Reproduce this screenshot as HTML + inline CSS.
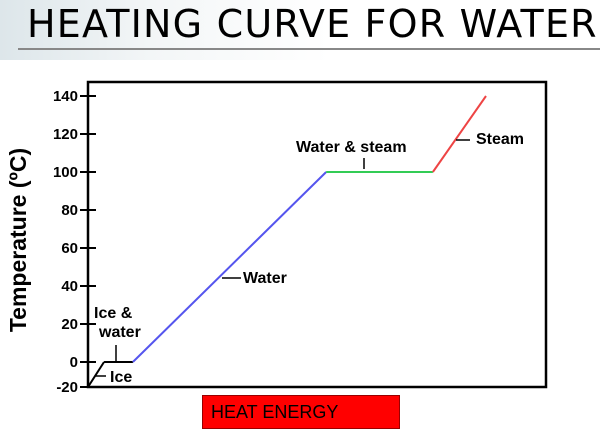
<!DOCTYPE html>
<html><head><meta charset="utf-8"><style>
body{margin:0;width:600px;height:429px;overflow:hidden;font-family:"Liberation Sans",sans-serif;background:#fff}
#bg{position:absolute;left:0;top:0;width:600px;height:60px;background:linear-gradient(90deg,#dde6ea 0%,#f3f6f7 25%,#fff 55%)}
#title{position:absolute;left:27px;top:2px;font-size:38px;color:#000;letter-spacing:1.2px;white-space:nowrap;font-family:"DejaVu Sans","Liberation Sans",sans-serif}
#rule{position:absolute;left:18px;top:48px;width:582px;height:2px;background:#888}
#energy{position:absolute;left:202px;top:395px;width:198px;height:34px;background:#f00;border:1px solid #900;box-sizing:border-box;font-size:18px;padding:6px 0 0 8px}
</style></head><body>
<div id="bg"></div>
<div id="title">HEATING CURVE FOR WATER</div>
<div id="rule"></div>
<svg id="chart" width="600" height="429" style="position:absolute;left:0;top:0"></svg>
<div id="energy">HEAT ENERGY</div>
<script>
const energy=[0,3.5,9.8,52,75.3,86.9];
const temps=[-20,0,0,100,100,140];
const colors=["#000","#000","#5555ee","#33cc55","#ee4444"];
const tickLabels=[140,120,100,80,60,40,20,0,-20];
const NS="http://www.w3.org/2000/svg";
const svg=document.getElementById('chart');
const L=88,R=546,T=82,B=387;
function xs(e){return L+e*4.58;}
function ys(t){return t>=0?362-t*(266/140):362+(-t)*(25/20);}
function mk(tag,attrs){const el=document.createElementNS(NS,tag);for(const k in attrs)el.setAttribute(k,attrs[k]);svg.appendChild(el);return el;}
const box=mk('rect',{x:L,y:T,width:R-L,height:B-T,fill:'none',stroke:'#000','stroke-width':2.5});


tickLabels.forEach(t=>{
  const y=ys(t);
  const ln=mk('line',{x1:L-8,x2:L+8,y1:y,y2:y,stroke:'#000','stroke-width':2});
  
  
  const tx=mk('text',{x:L-10,y:y+5,'text-anchor':'end','font-size':15,'font-weight':'bold'});
  tx.textContent=t;
  
  
});
for(let i=0;i<energy.length-1;i++){
  const s=mk('line',{x1:xs(energy[i]),y1:ys(temps[i]),x2:xs(energy[i+1]),y2:ys(temps[i+1]),stroke:colors[i],'stroke-width':2});
  
  
}
const yl=mk('text',{x:0,y:0,transform:'translate(26,240) rotate(-90)','text-anchor':'middle','font-size':23,'font-weight':'bold'});
yl.textContent='Temperature (ºC)';


function label(txt,x,y,name){const t=mk('text',{x:x,y:y,'font-size':16,'font-weight':'bold'});t.textContent=txt;}
function lead(x1,y1,x2,y2){const l=mk('line',{x1,y1,x2,y2,stroke:'#000','stroke-width':1.5});}
label('Ice',110,382,'ice-label');lead(95,376,106,376);
label('Ice &',94,318,'ice-water-label');label('water',99,337,'ice-water-label-2');lead(116,345,116,362);
label('Water',243,283,'water-label');lead(222,278,241,278);
label('Water & steam',296,152,'water-steam-label');lead(364,158,364,169);
label('Steam',476,144,'steam-label');lead(456,140,470,140);
</script>
</body></html>
